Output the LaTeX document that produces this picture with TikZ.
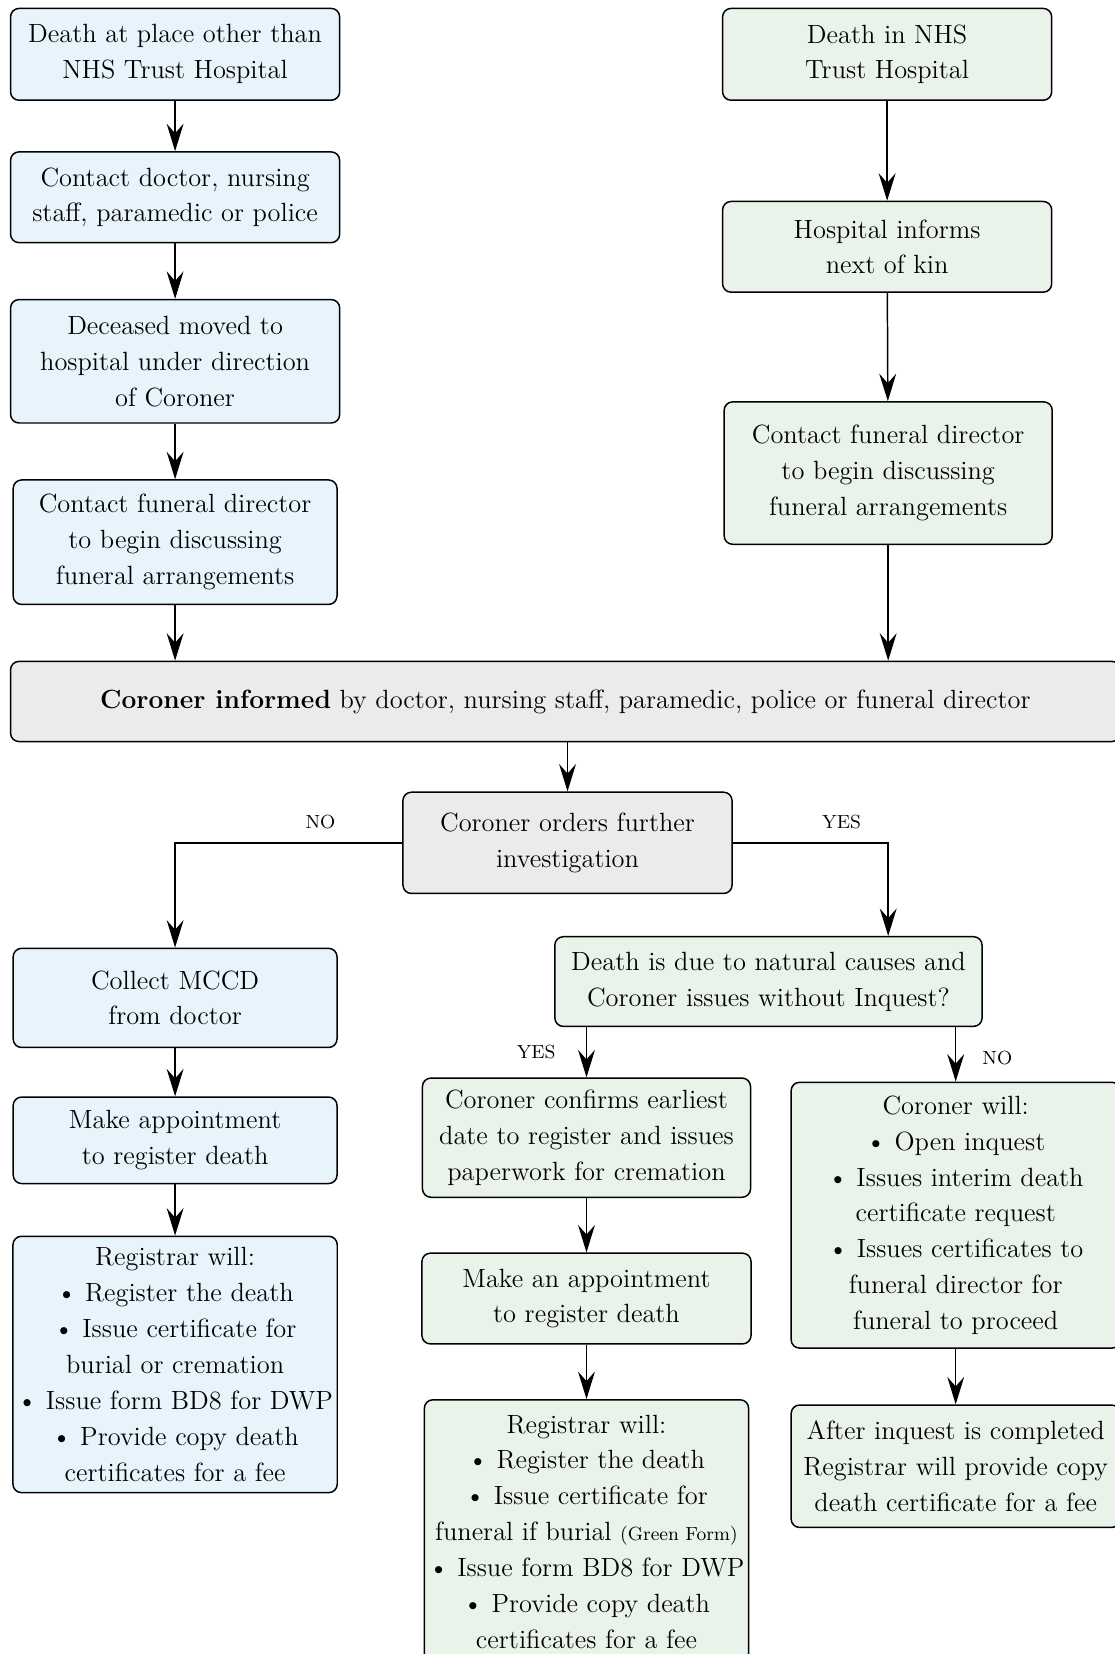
\documentclass[tikz,border=0pt]{standalone}
\usepackage{fontspec}
\usetikzlibrary{arrows.meta}
\definecolor{boxblue}{HTML}{E8F4FC}
\definecolor{boxgreen}{HTML}{EAF3EA}
\definecolor{boxgray}{HTML}{EBEBEB}

\begin{document}
\begin{tikzpicture}[x=0.5pt, y=-0.5pt,
    box/.style={draw=black, line width=0.7pt, rounded corners=4pt, align=center,
        inner sep=2pt, font=\fontsize{12.5}{17}\selectfont},
    bluebox/.style={box, fill=boxblue},
    greenbox/.style={box, fill=boxgreen},
    graybox/.style={box, fill=boxgray},
    flow/.style={line width=0.7pt, -{Stealth[length=13pt, width=8pt, inset=4.5pt]}},
    answer/.style={font=\fontsize{9}{10}\selectfont}]
        \clip (0,0) rectangle (1057,1568);

        % left column
        \node[bluebox, minimum width=156pt, minimum height=43.5pt] (placeother) at (166,51.5)
            {Death at place other than\\NHS Trust Hospital};
        \node[bluebox, minimum width=156pt, minimum height=43pt] (contactstaff) at (166,187)
            {Contact doctor, nursing\\staff, paramedic or police};
        \node[bluebox, minimum width=156pt, minimum height=58.5pt] (moved) at (166,342.5)
            {Deceased moved to\\hospital under direction\\of Coroner};
        \node[bluebox, minimum width=153.5pt, minimum height=59pt] (funeralleft) at (166,514)
            {Contact funeral director\\to begin discussing\\funeral arrangements};

        % right column
        \node[greenbox, minimum width=156pt, minimum height=43.5pt] (nhsdeath) at (841,51.5)
            {Death in NHS\\Trust Hospital};
        \node[greenbox, minimum width=156pt, minimum height=43pt] (kin) at (841,234)
            {Hospital informs\\next of kin};
        \node[greenbox, minimum width=155.5pt, minimum height=67.5pt] (funeralright) at (842,448.5)
            {Contact funeral director\\to begin discussing\\funeral arrangements};

        % coroner
        \node[graybox, minimum width=526pt, minimum height=38pt] (informed) at (536,665)
            {\textbf{Coroner informed} by doctor, nursing staff, paramedic, police or funeral director};
        \node[graybox, minimum width=156pt, minimum height=48pt] (further) at (538,799)
            {Coroner orders further\\investigation};

        % no investigation
        \node[bluebox, minimum width=153.5pt, minimum height=47pt] (mccd) at (166,946)
            {Collect MCCD\\from doctor};
        \node[bluebox, minimum width=153.5pt, minimum height=41pt] (appointleft) at (166,1081)
            {Make appointment\\to register death};
        \node[bluebox, minimum width=153.5pt, minimum height=121.5pt] (registrarleft) at (166,1293.5)
            {Registrar will:\\\textbullet{} Register the death\\\textbullet{} Issue certificate for\\burial or cremation\\\textbullet{} Issue form BD8 for DWP\\\textbullet{} Provide copy death\\certificates for a fee};

        % investigation
        \node[greenbox, minimum width=202.5pt, minimum height=42.5pt] (natural) at (728.5,930.5)
            {Death is due to natural causes and\\Coroner issues without Inquest?};
        \node[greenbox, minimum width=155.5pt, minimum height=56.5pt] (earliest) at (556,1078.5)
            {Coroner confirms earliest\\date to register and issues\\paperwork for cremation};
        \node[greenbox, minimum width=156pt, minimum height=43pt] (appointmid) at (556,1231)
            {Make an appointment\\to register death};
        \node[greenbox, minimum width=151.5pt, minimum height=125pt] (registrarmid) at (556,1452)
            {Registrar will:\\\textbullet{} Register the death\\\textbullet{} Issue certificate for\\funeral if burial {\fontsize{9}{10}\selectfont(Green Form)}\\\textbullet{} Issue form BD8 for DWP\\\textbullet{} Provide copy death\\certificates for a fee};
        \node[greenbox, minimum width=156pt, minimum height=126pt] (inquest) at (906,1152)
            {Coroner will:\\\textbullet{} Open inquest\\\textbullet{} Issues interim death\\certificate request\\\textbullet{} Issues certificates to\\funeral director for\\funeral to proceed};
        \node[greenbox, minimum width=156pt, minimum height=58pt] (afterinquest) at (906,1390)
            {After inquest is completed\\Registrar will provide copy\\death certificate for a fee};

        \draw[flow] (placeother) -- (contactstaff);
        \draw[flow] (contactstaff) -- (moved);
        \draw[flow] (moved) -- (funeralleft);
        \draw[flow] (funeralleft) -- (funeralleft.south |- informed.north);
        \draw[flow] (nhsdeath) -- (kin);
        \draw[flow] (kin) -- (funeralright);
        \draw[flow] (funeralright) -- (funeralright.south |- informed.north);
        \draw[flow] (further.north |- informed.south) -- (further);

        \draw[flow] (further.west) -| (mccd.north) node[answer, pos=0.18, above=3pt] (no1) {NO};
        \draw[flow] (further.east) -| (natural.north -| funeralright.south) node[answer, pos=0.35, above=3pt] (yes1) {YES};

        \draw[flow] (mccd) -- (appointleft);
        \draw[flow] (appointleft) -- (registrarleft);

        \draw[flow] (natural.south -| earliest.north) -- (earliest.north) node[answer, pos=0.5, left=11pt] (yes2) {YES};
        \draw[flow] (natural.south -| inquest.north) -- (inquest.north) node[answer, pos=0.57, right=9pt] (no2) {NO};
        \draw[flow] (earliest) -- (appointmid);
        \draw[flow] (appointmid) -- (registrarmid);
        \draw[flow] (inquest) -- (afterinquest);
    \end{tikzpicture}
\end{document}
